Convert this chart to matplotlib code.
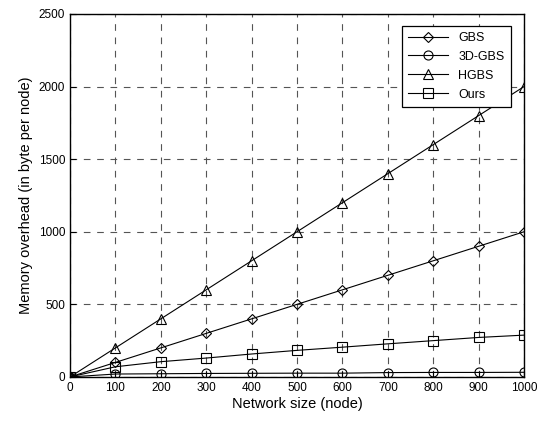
import numpy as np
import matplotlib.pyplot as plt

plt.rcParams['font.family'] = ['Liberation Sans', 'DejaVu Sans']

# network size (nodes) and memory overhead per scheme (bytes per node)
nodes = [0, 100, 200, 300, 400, 500, 600, 700, 800, 900, 1000]
gbs = [0, 100, 200, 300, 400, 500, 600, 700, 800, 900, 1000]
gbs3d = [0, 20, 22, 24, 25, 26, 26, 30, 31, 31, 32]
hgbs = [0, 200, 400, 600, 800, 1000, 1200, 1400, 1600, 1800, 2000]
ours = [0, 70, 105, 130, 158, 183, 205, 228, 250, 272, 288]

fig = plt.figure(figsize=(5.47, 4.24), dpi=100)
ax = fig.add_axes([0.128, 0.111, 0.83, 0.856])

style = dict(color='black', linewidth=0.8, markerfacecolor='none',
             markeredgecolor='black', markeredgewidth=0.8)
ax.plot(nodes, gbs, marker='D', markersize=5.5, label='GBS', **style)
ax.plot(nodes, gbs3d, marker='o', markersize=6.5, label='3D-GBS', **style)
ax.plot(nodes, hgbs, marker='^', markersize=7, label='HGBS', **style)
ax.plot(nodes, ours, marker='s', markersize=6.5, label='Ours', **style)

ax.set_xlim(0, 1000)
ax.set_ylim(0, 2500)
ax.set_xticks(np.arange(0, 1001, 100))
ax.set_yticks(np.arange(0, 2501, 500))
ax.grid(True, linestyle=(0, (6, 6)), color='#555555', linewidth=0.8)
ax.tick_params(direction='in', labelsize=8.5, length=4)
for s in ax.spines.values():
    s.set_linewidth(1.0)

ax.set_xlabel('Network size (node)', fontsize=10.5, labelpad=2)
ax.set_ylabel('Memory overhead (in byte per node)', fontsize=10.5, labelpad=4)

leg = ax.legend(loc='upper right', fontsize=9, fancybox=False, framealpha=1,
                edgecolor='black', borderpad=0.5, handlelength=3.2,
                labelspacing=0.55, bbox_to_anchor=(0.985, 0.985))
leg.get_frame().set_linewidth(0.9)

fig.savefig('out.png', dpi=100)
